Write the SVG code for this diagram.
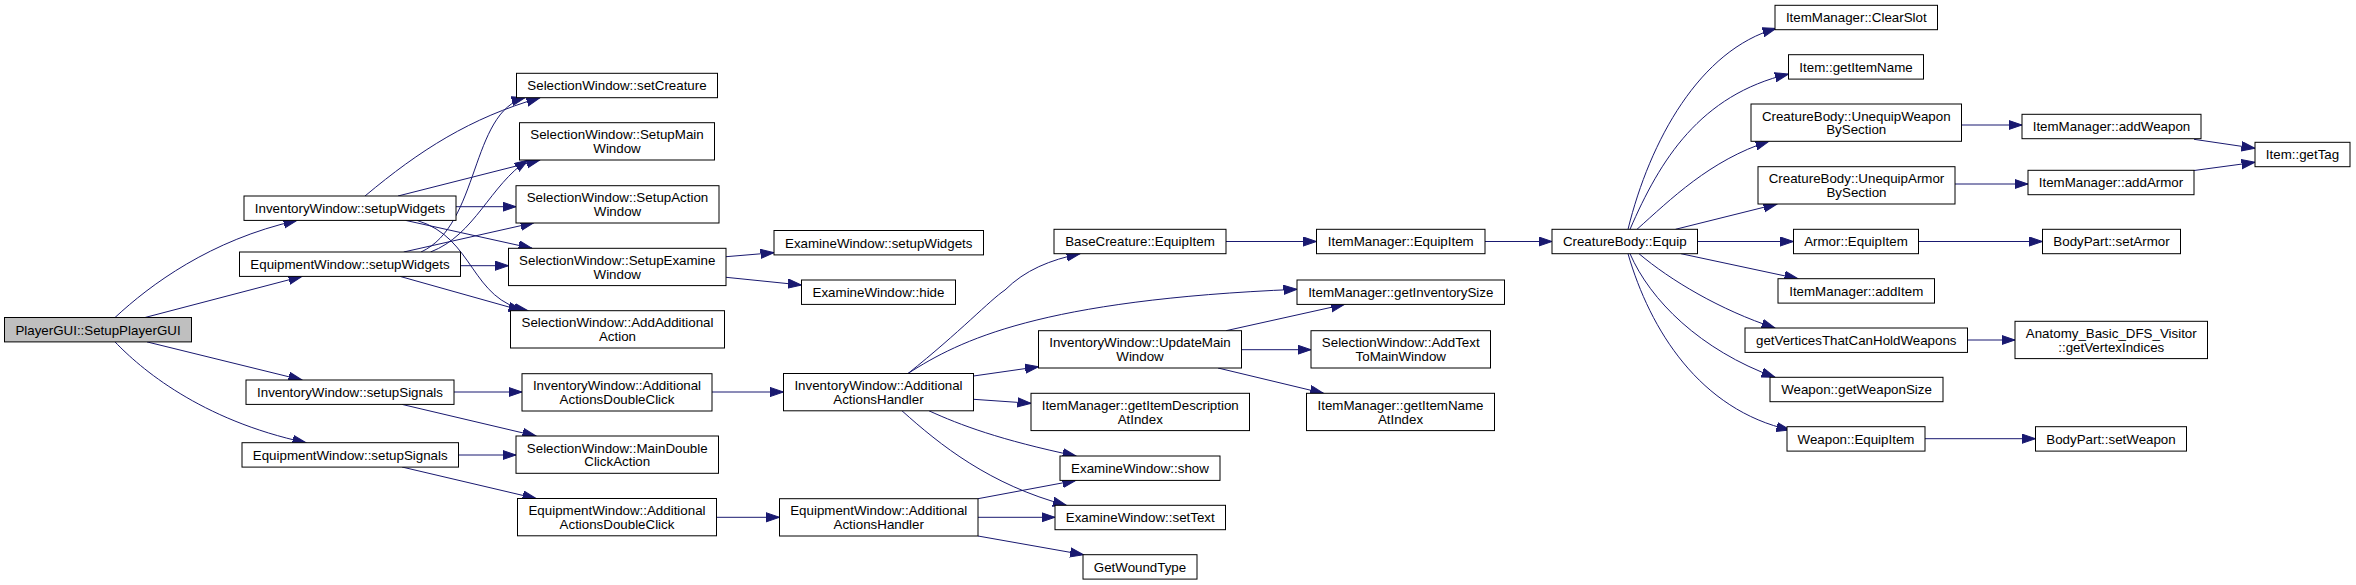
<svg xmlns="http://www.w3.org/2000/svg" width="2356" height="585" viewBox="0 0 2356 585">
<style>
.n rect{fill:#ffffff;stroke:#000000;stroke-width:1}
.n.root rect{fill:#bfbfbf}
.n text{font-family:"Liberation Sans",Arial,Helvetica,sans-serif;font-size:13.33px;text-anchor:middle;fill:#000000}
.e path{fill:none;stroke:#191970;stroke-width:1;marker-end:url(#arr)}
</style>
<defs>
<marker id="arr" markerUnits="userSpaceOnUse" markerWidth="15" markerHeight="11" refX="13.5" refY="5" orient="auto">
<path d="M0,0.4 L13.5,5 L0,9.6 z" fill="#191970" stroke="#191970" stroke-width="1"/>
</marker>
</defs>
<rect x="0" y="0" width="2356" height="585" fill="#ffffff"/>
<g id="edges" class="e">
<path d="M115,317.5 C150,285 210,240 297,220.4"/>
<path d="M145,317.5 L302,276.4"/>
<path d="M147,341.9 L302,380"/>
<path d="M115,341.9 C140,368 200,420 306,442.7"/>
<path d="M365,196 C420,150 470,118 540,97.7"/>
<path d="M398,196 L540,160"/>
<path d="M456,206.7 L516,206.7"/>
<path d="M405.6,220.4 L532,248.3"/>
<path d="M417,220.4 C475,238 470,300 528,310.7"/>
<path d="M421,252 C480,225 470,112 525,97.7"/>
<path d="M430.5,252 C475,235 490,185 528,160"/>
<path d="M403.7,252 L534,222.7"/>
<path d="M460.5,265.7 L508.5,265.7"/>
<path d="M400,276.4 L522,310.7"/>
<path d="M454,392 L522,392"/>
<path d="M402,404.4 L536,436"/>
<path d="M458.5,455 L516,455"/>
<path d="M402,467 L536,498.5"/>
<path d="M726,256.7 L774,252.7"/>
<path d="M726,277.3 L801.5,285"/>
<path d="M712,392 L783.5,392"/>
<path d="M716.5,517.3 L779.5,517.3"/>
<path d="M908,373.5 C960,332 990,300 1005,290 C1025,270 1050,260 1080,253.7"/>
<path d="M908,373.5 C960,340 1040,300 1297,289.3"/>
<path d="M973.5,376 L1038.5,366.7"/>
<path d="M973.5,399.3 L1031,403.3"/>
<path d="M929,410.8 C960,425 1000,440 1076,456"/>
<path d="M902,410.8 C940,445 990,485 1066.4,505.3"/>
<path d="M978,498.7 L1076,480.4"/>
<path d="M978,517.3 L1055,517.3"/>
<path d="M978,536 L1083.6,554.7"/>
<path d="M1226,241.5 L1316.5,241.5"/>
<path d="M1226,330.7 L1344.5,304.4"/>
<path d="M1241.5,349.7 L1311,349.7"/>
<path d="M1218,368 L1323.5,393.3"/>
<path d="M1485,241.5 L1552,241.5"/>
<path d="M1628,229.3 C1650,140 1700,50 1776,28.5"/>
<path d="M1630,229.3 C1660,160 1700,95 1788.5,74"/>
<path d="M1637,229.3 C1670,200 1710,160 1769,141.3"/>
<path d="M1675.5,229.3 L1777,204"/>
<path d="M1697.5,241.5 L1793.5,241.5"/>
<path d="M1681,253.7 L1798,278.7"/>
<path d="M1639,253.7 C1670,280 1720,310 1775,328"/>
<path d="M1630,253.7 C1650,300 1700,350 1775,377.3"/>
<path d="M1628,253.7 C1650,330 1700,410 1790,430"/>
<path d="M1961.5,125 L2022,125"/>
<path d="M1955,184 L2028,184"/>
<path d="M2194,139.3 L2255,148.3"/>
<path d="M2194,170.5 L2255,162.3"/>
<path d="M1918.5,241.5 L2042.5,241.5"/>
<path d="M1967.5,340 L2015,340"/>
<path d="M1925,438.7 L2035.5,438.7"/>
</g>
<g id="n0" class="n root"><rect x="4.5" y="317.5" width="187" height="24.4"/><text x="98" y="334.5">PlayerGUI::SetupPlayerGUI</text></g>
<g id="n1" class="n"><rect x="244" y="196" width="212" height="24.4"/><text x="350" y="213">InventoryWindow::setupWidgets</text></g>
<g id="n2" class="n"><rect x="239.5" y="252" width="221" height="24.4"/><text x="350" y="269">EquipmentWindow::setupWidgets</text></g>
<g id="n3" class="n"><rect x="246" y="380" width="208" height="24.4"/><text x="350" y="397">InventoryWindow::setupSignals</text></g>
<g id="n4" class="n"><rect x="242" y="442.7" width="216.5" height="24.4"/><text x="350.25" y="459.7">EquipmentWindow::setupSignals</text></g>
<g id="n5" class="n"><rect x="516.5" y="73.3" width="201" height="24.4"/><text x="617" y="90.3">SelectionWindow::setCreature</text></g>
<g id="n6" class="n"><rect x="519.5" y="122.7" width="195" height="37.3"/><text x="617" y="139.3">SelectionWindow::SetupMain</text><text x="617" y="152.9">Window</text></g>
<g id="n7" class="n"><rect x="516" y="185.7" width="203" height="37.3"/><text x="617.5" y="202.3">SelectionWindow::SetupAction</text><text x="617.5" y="215.9">Window</text></g>
<g id="n8" class="n"><rect x="508.5" y="248.3" width="217.5" height="37.3"/><text x="617.25" y="264.9">SelectionWindow::SetupExamine</text><text x="617.25" y="278.5">Window</text></g>
<g id="n9" class="n"><rect x="510.5" y="310.7" width="214" height="37.3"/><text x="617.5" y="327.3">SelectionWindow::AddAdditional</text><text x="617.5" y="340.9">Action</text></g>
<g id="n10" class="n"><rect x="522" y="373.7" width="190" height="37.3"/><text x="617" y="390.3">InventoryWindow::Additional</text><text x="617" y="403.9">ActionsDoubleClick</text></g>
<g id="n11" class="n"><rect x="516" y="436" width="202.5" height="37.3"/><text x="617.25" y="452.6">SelectionWindow::MainDouble</text><text x="617.25" y="466.2">ClickAction</text></g>
<g id="n12" class="n"><rect x="517.5" y="498.5" width="199" height="37.3"/><text x="617" y="515.1">EquipmentWindow::Additional</text><text x="617" y="528.7">ActionsDoubleClick</text></g>
<g id="n13" class="n"><rect x="774" y="230.5" width="209.5" height="24.4"/><text x="878.75" y="247.5">ExamineWindow::setupWidgets</text></g>
<g id="n14" class="n"><rect x="801.5" y="280" width="154" height="24.4"/><text x="878.5" y="297">ExamineWindow::hide</text></g>
<g id="n15" class="n"><rect x="783.5" y="373.5" width="190" height="37.3"/><text x="878.5" y="390.1">InventoryWindow::Additional</text><text x="878.5" y="403.7">ActionsHandler</text></g>
<g id="n16" class="n"><rect x="779.5" y="498.7" width="198.5" height="37.3"/><text x="878.75" y="515.3">EquipmentWindow::Additional</text><text x="878.75" y="528.9">ActionsHandler</text></g>
<g id="n17" class="n"><rect x="1054" y="229.3" width="172" height="24.4"/><text x="1140" y="246.3">BaseCreature::EquipItem</text></g>
<g id="n18" class="n"><rect x="1038.5" y="330.7" width="203" height="37.3"/><text x="1140" y="347.3">InventoryWindow::UpdateMain</text><text x="1140" y="360.9">Window</text></g>
<g id="n19" class="n"><rect x="1031" y="393.3" width="218.5" height="37.3"/><text x="1140.25" y="409.9">ItemManager::getItemDescription</text><text x="1140.25" y="423.5">AtIndex</text></g>
<g id="n20" class="n"><rect x="1060" y="456" width="160" height="24.4"/><text x="1140" y="473">ExamineWindow::show</text></g>
<g id="n21" class="n"><rect x="1055" y="505.3" width="170.5" height="24.4"/><text x="1140.25" y="522.3">ExamineWindow::setText</text></g>
<g id="n22" class="n"><rect x="1083" y="554.7" width="114" height="24.4"/><text x="1140" y="571.7">GetWoundType</text></g>
<g id="n23" class="n"><rect x="1316.5" y="229.3" width="168.5" height="24.4"/><text x="1400.75" y="246.3">ItemManager::EquipItem</text></g>
<g id="n24" class="n"><rect x="1297" y="280" width="207.5" height="24.4"/><text x="1400.75" y="297">ItemManager::getInventorySize</text></g>
<g id="n25" class="n"><rect x="1311" y="330.7" width="179.5" height="37.3"/><text x="1400.75" y="347.3">SelectionWindow::AddText</text><text x="1400.75" y="360.9">ToMainWindow</text></g>
<g id="n26" class="n"><rect x="1306.5" y="393.3" width="188" height="37.3"/><text x="1400.5" y="409.9">ItemManager::getItemName</text><text x="1400.5" y="423.5">AtIndex</text></g>
<g id="n27" class="n"><rect x="1552" y="229.3" width="145.5" height="24.4"/><text x="1624.75" y="246.3">CreatureBody::Equip</text></g>
<g id="n28" class="n"><rect x="1775" y="5.3" width="162.5" height="24.4"/><text x="1856.25" y="22.3">ItemManager::ClearSlot</text></g>
<g id="n29" class="n"><rect x="1788.5" y="54.7" width="135" height="24.4"/><text x="1856" y="71.7">Item::getItemName</text></g>
<g id="n30" class="n"><rect x="1751" y="104" width="210.5" height="37.3"/><text x="1856.25" y="120.6">CreatureBody::UnequipWeapon</text><text x="1856.25" y="134.2">BySection</text></g>
<g id="n31" class="n"><rect x="1758" y="166.7" width="197" height="37.3"/><text x="1856.5" y="183.3">CreatureBody::UnequipArmor</text><text x="1856.5" y="196.9">BySection</text></g>
<g id="n32" class="n"><rect x="1793.5" y="229.3" width="125" height="24.4"/><text x="1856" y="246.3">Armor::EquipItem</text></g>
<g id="n33" class="n"><rect x="1778" y="278.7" width="156.5" height="24.4"/><text x="1856.25" y="295.7">ItemManager::addItem</text></g>
<g id="n34" class="n"><rect x="1745" y="328" width="222.5" height="24.4"/><text x="1856.25" y="345">getVerticesThatCanHoldWeapons</text></g>
<g id="n35" class="n"><rect x="1770" y="377.3" width="173" height="24.4"/><text x="1856.5" y="394.3">Weapon::getWeaponSize</text></g>
<g id="n36" class="n"><rect x="1787" y="426.7" width="138" height="24.4"/><text x="1856" y="443.7">Weapon::EquipItem</text></g>
<g id="n37" class="n"><rect x="2022" y="114.3" width="179" height="24.4"/><text x="2111.5" y="131.3">ItemManager::addWeapon</text></g>
<g id="n38" class="n"><rect x="2028" y="170.3" width="166" height="24.4"/><text x="2111" y="187.3">ItemManager::addArmor</text></g>
<g id="n39" class="n"><rect x="2042.5" y="229.3" width="138" height="24.4"/><text x="2111.5" y="246.3">BodyPart::setArmor</text></g>
<g id="n40" class="n"><rect x="2015" y="321.3" width="192.5" height="37.3"/><text x="2111.25" y="337.9">Anatomy_Basic_DFS_Visitor</text><text x="2111.25" y="351.5">::getVertexIndices</text></g>
<g id="n41" class="n"><rect x="2035.5" y="426.7" width="151" height="24.4"/><text x="2111" y="443.7">BodyPart::setWeapon</text></g>
<g id="n42" class="n"><rect x="2255" y="142.3" width="95" height="24.4"/><text x="2302.5" y="159.3">Item::getTag</text></g>
</svg>
